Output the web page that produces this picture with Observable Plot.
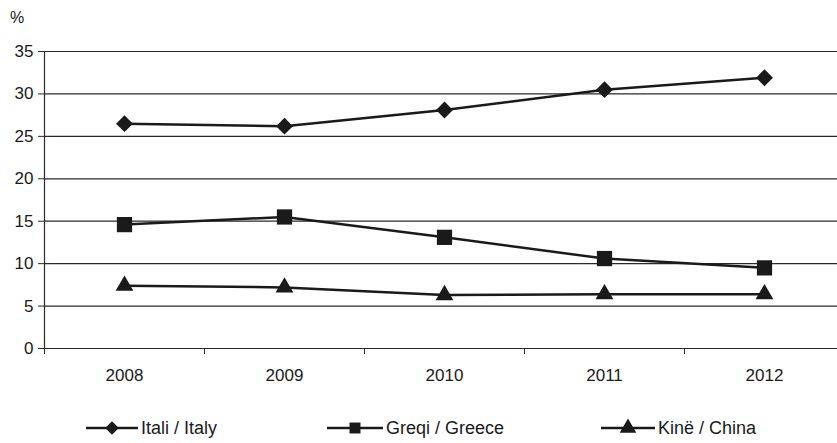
<!DOCTYPE html>
<html><head><meta charset="utf-8">
<script src="https://cdn.jsdelivr.net/npm/d3@7"></script>
<script src="https://cdn.jsdelivr.net/npm/@observablehq/plot@0.6"></script>
<style>
body{margin:0;background:#fff;width:837px;height:443px;overflow:hidden;position:relative;font-family:"Liberation Sans",Arial,sans-serif;color:#1a1a1a}
#unit{position:absolute;left:10px;top:9px;font-size:16px}
#chart{position:absolute;left:0;top:0}
#legend{position:absolute;left:0;top:413px;width:837px;height:30px}
.item{position:absolute;top:0;height:30px;display:flex;align-items:center;font-size:18px;white-space:nowrap}
.item svg{display:block;margin-right:3px}
</style></head><body>
<div id="unit">%</div>
<div id="chart"></div>
<div id="legend"></div>
<script>
const years = [2008, 2009, 2010, 2011, 2012];
const italy = [26.5, 26.2, 28.1, 30.5, 31.9];
const greece = [14.6, 15.5, 13.1, 10.6, 9.5];
const china = [7.4, 7.2, 6.3, 6.4, 6.4];
const seriesNames = ["Itali / Italy", "Greqi / Greece", "Kinë / China"];
const seriesValues = [italy, greece, china];
const seriesSymbols = ["diamond2", "square", "triangle"];
const yTicks = [0, 5, 10, 15, 20, 25, 30, 35];

const ink = "#1a1a1a";
const markerR = [7.6, 8.6, 6.6];
const rows = [];
seriesNames.forEach((s, i) => years.forEach((y, j) => rows.push({series: s, year: y, value: seriesValues[i][j]})));
const boundaries = years.map(y => y - 0.5).concat([years[years.length - 1] + 0.5]);

const chart = Plot.plot({
  width: 837, height: 395,
  marginLeft: 44, marginRight: -7, marginTop: 51, marginBottom: 47,
  style: {fontFamily: '"Liberation Sans",Arial,sans-serif', fontSize: "17px", color: ink, background: "transparent", overflow: "visible"},
  x: {type: "linear", domain: [boundaries[0], boundaries[boundaries.length - 1]]},
  y: {domain: [0, 35]},
  marks: [
    Plot.gridY(yTicks, {stroke: "#2a2a2a", strokeOpacity: 1, strokeWidth: 1.2}),
    Plot.axisY(yTicks, {tickSize: 6, tickPadding: 5, label: null, stroke: "#2a2a2a"}),
    Plot.ruleX([boundaries[0]], {stroke: "#2a2a2a", strokeWidth: 1.2}),
    Plot.ruleY([0], {stroke: "#2a2a2a", strokeWidth: 1.2}),
    Plot.axisX(boundaries, {tickSize: 6, tickFormat: () => "", label: null, stroke: "#2a2a2a"}),
    Plot.axisX(years, {tickSize: 0, tickPadding: 20, tickFormat: d => String(d), label: null}),
    Plot.line(rows, {x: "year", y: "value", z: "series", stroke: ink, strokeWidth: 2.5}),
    ...seriesNames.map((s, i) => Plot.dot(rows.filter(d => d.series === s), {x: "year", y: "value", symbol: () => seriesSymbols[i], r: markerR[i], fill: ink, stroke: "none"}))
  ]
});
document.getElementById("chart").appendChild(chart);

// legend
const symMap = {diamond2: d3.symbolDiamond2, square: d3.symbolSquare, triangle: d3.symbolTriangle};
const legendLefts = [86, 327, 601];
const legendWidths = [52, 56, 54];
const legend = d3.select("#legend");
seriesNames.forEach((s, i) => {
  const w = legendWidths[i];
  const item = legend.append("div").attr("class", "item").style("left", legendLefts[i] + "px");
  const svg = item.append("svg").attr("width", w).attr("height", 20);
  svg.append("line").attr("x1", 0).attr("x2", w).attr("y1", 10).attr("y2", 10).attr("stroke", ink).attr("stroke-width", 2.5);
  svg.append("path").attr("transform", `translate(${w / 2},10)`).attr("d", d3.symbol(symMap[seriesSymbols[i]], 120)()).attr("fill", ink);
  item.append("span").text(s);
});
</script>
</body></html>
